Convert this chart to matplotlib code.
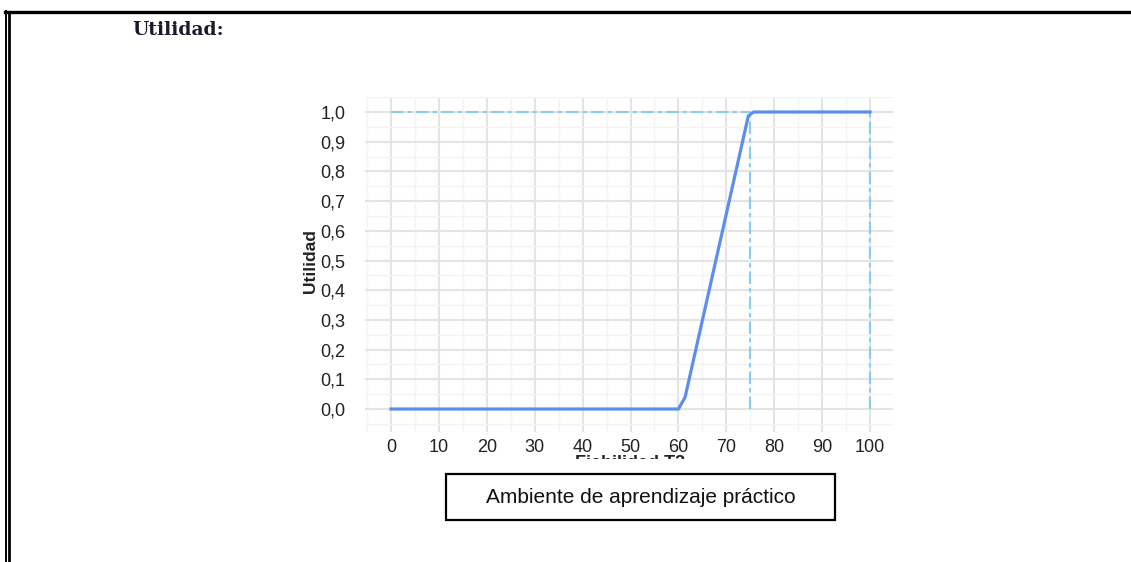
import matplotlib
matplotlib.use("Agg")
import matplotlib.pyplot as plt
from matplotlib.lines import Line2D
from matplotlib.patches import Rectangle
from matplotlib.transforms import Bbox
from matplotlib.ticker import MultipleLocator, FuncFormatter

# curve data
curve_x = [0, 60, 61.4, 74.6, 75.7, 100]
curve_y = [0.0, 0.0, 0.04, 0.987, 1.0, 1.0]
# reference dashed guides
ref_x = [75, 100]
ref_y = 1.0
x_ticks = [0, 10, 20, 30, 40, 50, 60, 70, 80, 90, 100]
y_ticks = [0.0, 0.1, 0.2, 0.3, 0.4, 0.5, 0.6, 0.7, 0.8, 0.9, 1.0]

W, H = 1131, 562
fig = plt.figure(figsize=(W / 100, H / 100), dpi=100)
fig.patch.set_facecolor("white")

def fx(px):
    return px / W

def fy(py):
    return 1 - py / H

sans = ["Liberation Sans", "DejaVu Sans"]

# page frame: thick top rule, double rule on the left
fig.add_artist(Line2D([fx(5), 1.0], [fy(11.7), fy(11.7)], color="black", lw=2.4))
fig.add_artist(Line2D([fx(5.7), fx(5.7)], [fy(10.5), 0], color="black", lw=1.4))
fig.add_artist(Line2D([fx(9.3), fx(9.3)], [fy(13), 0], color="black", lw=2.0))

fig.text(fx(132), fy(35), "Utilidad:", family="DejaVu Serif", fontweight="bold",
         fontsize=13.5, color="#1a1a2e", ha="left", va="baseline")

ax = fig.add_axes([fx(365), fy(432), fx(893) - fx(365), fy(97) - fy(432)])
ax.set_xlim(-5.43, 104.8)
ax.set_ylim(-0.0774, 1.0505)
for s in ax.spines.values():
    s.set_visible(False)

ax.xaxis.set_minor_locator(MultipleLocator(5))
ax.yaxis.set_minor_locator(MultipleLocator(0.05))
ax.set_xticks(x_ticks)
ax.set_yticks(y_ticks)
ax.yaxis.set_major_formatter(FuncFormatter(lambda v, p: ("%.1f" % v).replace(".", ",")))
ax.grid(which="major", color="#e4e4e4", lw=1.5)
ax.grid(which="minor", color="#f4f4f4", lw=1.0)
ax.set_axisbelow(True)
ax.tick_params(which="both", length=0)
ax.tick_params(axis="x", pad=5, labelsize=13, labelcolor="#222222")
ax.tick_params(axis="y", pad=14, labelsize=13, labelcolor="#222222")
for lab in ax.get_xticklabels() + ax.get_yticklabels():
    lab.set_family(sans)

# dashed guides
guide = "#88cdee"
ax.plot([0, ref_x[0]], [ref_y, ref_y], color=guide, lw=1.5, dashes=(6, 2, 2, 2))
for xv in ref_x:
    ax.plot([xv, xv], [0, ref_y], color=guide, lw=1.5, dashes=(6, 2, 2, 2))

ax.plot(curve_x, curve_y, color="#5b8ef0", lw=2.3, solid_joinstyle="round")

ax.set_ylabel("Utilidad", family=sans, fontsize=12.5, fontweight="bold", color="#222222")
ax.yaxis.set_label_coords(-0.089, 0.51)

# x-axis title, cut off by the page crop (only its top edge shows)
xt = fig.text(fx(630), fy(455), "Fiabilidad T3", family=sans,
              fontsize=13, fontweight="bold", color="#222222", ha="center", va="top")
xt.set_clip_on(True)
xt.set_clip_box(Bbox.from_extents(540, H - 459, 720, H - 455))

# caption box
fig.add_artist(Rectangle((fx(446), fy(520)), fx(835) - fx(446), fy(474) - fy(520),
                         transform=fig.transFigure, fill=False, ec="black", lw=1.6))
fig.text(fx(640.5), fy(497.5), "Ambiente de aprendizaje práctico",
         family=sans, fontsize=15, color="#111111", ha="center", va="center")

fig.savefig("out.png", dpi=100, facecolor="white")
